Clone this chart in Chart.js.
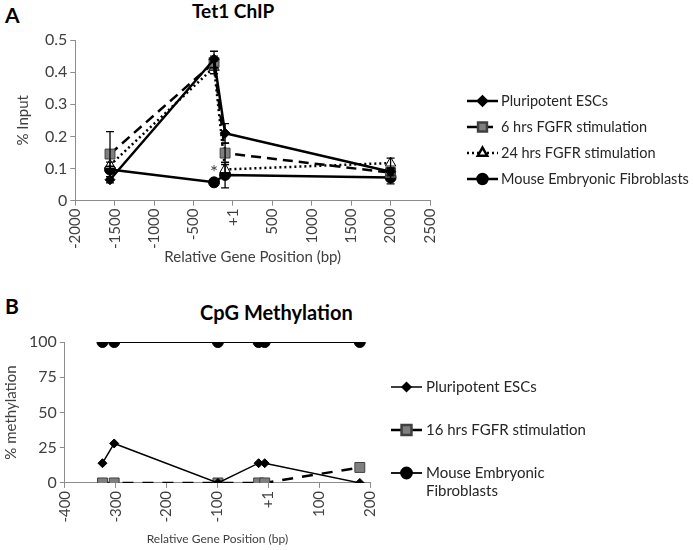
<!DOCTYPE html>
<html>
<head>
<meta charset="utf-8">
<script src="https://cdn.jsdelivr.net/npm/chart.js@4.4.0/dist/chart.umd.min.js"></script>
<style>
  body { margin: 0; background: #fff; width: 693px; height: 550px; position: relative; overflow: hidden; font-family: Lato, "Open Sans", sans-serif; }
  .box { position: absolute; left: 0; width: 693px; height: 275px; }
  .lbl { position: absolute; font-weight: bold; color: #000; line-height: 1; white-space: nowrap; }
</style>
</head>
<body>
<div class="lbl" style="left:5px;top:4px;font-size:21px">A</div>
<div class="lbl" style="left:192px;top:1px;font-size:19px">Tet1 ChIP</div>
<div class="lbl" style="left:5px;top:295px;font-size:21px">B</div>
<div class="lbl" style="left:200px;top:302px;font-size:20px">CpG Methylation</div>
<div class="box" style="top:0"><canvas id="chartA"></canvas></div>
<div class="box" style="top:275px"><canvas id="chartB"></canvas></div>

<script>
// Panel A - Tet1 ChIP (% input)
const posA = [-1560, -240, -100, 2000];
const escA = [0.065, 0.44, 0.21, 0.09];
const fgf6A = [0.145, 0.43, 0.148, 0.087];
const fgf24A = [0.11, 0.415, 0.097, 0.117];
const mefA = [0.097, 0.057, 0.08, 0.072];
const escErrA = [0.01, 0.025, 0.03, 0.01];
const fgf6ErrA = [0.07, 0.02, 0.03, 0.01];
const fgf24ErrA = [0.01, 0.02, 0.015, 0.015];
const mefErrA = [0.01, 0.005, 0.04, 0.02];
const labelsA = ['Pluripotent ESCs', '6 hrs FGFR stimulation', '24 hrs FGFR stimulation', 'Mouse Embryonic Fibroblasts'];
const starA = { x: -240, y: 0.085, text: '*' };

// Panel B - CpG methylation
const posB = [-326, -303, -99, -19, -7, 180];
const escB = [14, 28, 0, 14, 14, 0];
const fgf16B = [0, 0, 0, 0, 0, 11];
const mefB = [100, 100, 100, 100, 100, 100];
const labelsB = ['Pluripotent ESCs', '16 hrs FGFR stimulation', ['Mouse Embryonic', 'Fibroblasts']];

const FONT = 'Lato, "Open Sans", sans-serif';
const TXT = '#404040';
const AXIS = '#8c8c8c';

function pts(xs, ys) {
  return xs.map((x, i) => ({ x: x, y: ys[i] }));
}

// error bars drawn from the y scale
const errorBars = {
  id: 'errorBars',
  afterDatasetsDraw(chart) {
    const ctx = chart.ctx;
    const y = chart.scales.y;
    chart.data.datasets.forEach((ds, i) => {
      if (!ds.errors) return;
      const meta = chart.getDatasetMeta(i);
      ctx.save();
      ctx.strokeStyle = '#000';
      ctx.lineWidth = 1.3;
      ctx.setLineDash([]);
      meta.data.forEach((p, j) => {
        const v = ds.data[j].y, e = ds.errors[j];
        const top = y.getPixelForValue(v + e), bot = y.getPixelForValue(v - e);
        ctx.beginPath();
        ctx.moveTo(p.x, top); ctx.lineTo(p.x, bot);
        ctx.moveTo(p.x - 4, top); ctx.lineTo(p.x + 4, top);
        ctx.moveTo(p.x - 4, bot); ctx.lineTo(p.x + 4, bot);
        ctx.stroke();
      });
      ctx.restore();
    });
    const star = chart.options.plugins.errorBars && chart.options.plugins.errorBars.star;
    if (star) {
      ctx.save();
      ctx.fillStyle = '#404040';
      ctx.font = '19px ' + FONT;
      ctx.textAlign = 'center';
      ctx.textBaseline = 'middle';
      ctx.fillText(star.text, chart.scales.x.getPixelForValue(star.x), y.getPixelForValue(star.y));
      ctx.restore();
    }
  }
};

// legend at the right: line sample + marker + text
const sideLegend = {
  id: 'sideLegend',
  afterDraw(chart, args, opts) {
    const ctx = chart.ctx;
    chart.data.datasets.forEach((ds, i) => {
      const yy = opts.rows[i];
      const x0 = opts.x, x1 = opts.x + opts.len;
      ctx.save();
      ctx.strokeStyle = '#000';
      ctx.lineWidth = ds.borderWidth;
      ctx.setLineDash(ds.borderDash || []);
      ctx.beginPath();
      ctx.moveTo(x0, yy); ctx.lineTo(x1, yy);
      ctx.stroke();
      ctx.setLineDash([]);
      ctx.fillStyle = ds.pointBackgroundColor;
      ctx.strokeStyle = ds.pointBorderColor;
      Chart.helpers.drawPoint(ctx, {
        pointStyle: ds.pointStyle,
        radius: ds.pointRadius * opts.scale,
        borderWidth: ds.pointBorderWidth,
        rotation: 0
      }, (x0 + x1) / 2, yy);
      ctx.fillStyle = '#262626';
      ctx.font = opts.size + 'px ' + FONT;
      ctx.textBaseline = 'middle';
      const lines = [].concat(ds.label);
      lines.forEach((t, k) => ctx.fillText(t, x1 + opts.gap, yy + k * opts.lineH));
      ctx.restore();
    });
  }
};

function axisOpts(min, max, step, title, titleSize, cb, pad) {
  return {
    type: 'linear', min: min, max: max,
    border: { color: AXIS, width: 1 },
    grid: { display: true, drawOnChartArea: false, drawTicks: true, tickLength: 5, color: AXIS },
    ticks: { stepSize: step, color: TXT, font: { family: FONT, size: 15 }, padding: 3, callback: cb },
    title: { display: true, text: title, color: TXT, font: { family: FONT, size: titleSize }, padding: pad }
  };
}

const plusOne = function(v) { return v === 0 ? '+1' : v; };

const xA = axisOpts(-2000, 2500, 500, 'Relative Gene Position (bp)', 15, plusOne, { top: -4, bottom: 0 });
xA.ticks.minRotation = 90; xA.ticks.maxRotation = 90;
const yA = axisOpts(0, 0.5, 0.1, '% Input', 15, undefined, { top: 0, bottom: 10 });
yA.ticks.font.size = 16;

new Chart(document.getElementById('chartA'), {
  type: 'line',
  data: {
    datasets: [
      { label: labelsA[0], data: pts(posA, escA), errors: escErrA, borderColor: '#000', borderWidth: 2.5,
        pointStyle: 'rectRot', pointRadius: 5, pointBackgroundColor: '#000', pointBorderColor: '#000', pointBorderWidth: 1 },
      { label: labelsA[1], data: pts(posA, fgf6A), errors: fgf6ErrA, borderColor: '#000', borderWidth: 2.5, borderDash: [10, 6],
        pointStyle: 'rect', pointRadius: 7, pointBackgroundColor: '#7f7f7f', pointBorderColor: '#404040', pointBorderWidth: 1 },
      { label: labelsA[2], data: pts(posA, fgf24A), errors: fgf24ErrA, borderColor: '#000', borderWidth: 2.5, borderDash: [2, 3],
        pointStyle: 'triangle', pointRadius: 6, pointBackgroundColor: '#fff', pointBorderColor: '#000', pointBorderWidth: 1 },
      { label: labelsA[3], data: pts(posA, mefA), errors: mefErrA, borderColor: '#000', borderWidth: 2.5,
        pointStyle: 'circle', pointRadius: 5.5, pointBackgroundColor: '#000', pointBorderColor: '#000', pointBorderWidth: 1 }
    ]
  },
  options: {
    responsive: true, maintainAspectRatio: false, animation: false,
    layout: { padding: { left: 14, right: 263, top: 40, bottom: 9 } },
    scales: { x: xA, y: yA },
    elements: { line: { tension: 0 } },
    plugins: {
      legend: { display: false }, tooltip: { enabled: false },
      errorBars: { star: starA },
      sideLegend: { x: 467, len: 31, gap: 3, size: 14.5, lineH: 18, scale: 0.9, rows: [101, 127, 153, 179] }
    }
  },
  plugins: [errorBars, sideLegend]
});

const xB = axisOpts(-400, 200, 100, 'Relative Gene Position (bp)', 12, plusOne, { top: 6, bottom: 0 });
xB.ticks.minRotation = 90; xB.ticks.maxRotation = 90;
const yB = axisOpts(0, 100, 25, '% methylation', 15, undefined, { top: 0, bottom: 6 });
yB.ticks.font.size = 16;

new Chart(document.getElementById('chartB'), {
  type: 'line',
  data: {
    datasets: [
      { label: labelsB[0], data: pts(posB, escB), borderColor: '#000', borderWidth: 1.5,
        pointStyle: 'rectRot', pointRadius: 4.5, pointBackgroundColor: '#000', pointBorderColor: '#000', pointBorderWidth: 1 },
      { label: labelsB[1], data: pts(posB, fgf16B), borderColor: '#000', borderWidth: 2.5, borderDash: [11, 9],
        pointStyle: 'rect', pointRadius: 7, pointBackgroundColor: '#7f7f7f', pointBorderColor: '#404040', pointBorderWidth: 1 },
      { label: labelsB[2], data: pts(posB, mefB), borderColor: '#000', borderWidth: 1.8,
        pointStyle: 'circle', pointRadius: 5.5, pointBackgroundColor: '#000', pointBorderColor: '#000', pointBorderWidth: 1 }
    ]
  },
  options: {
    responsive: true, maintainAspectRatio: false, animation: false,
    layout: { padding: { left: 2, right: 323, top: 67, bottom: 4 } },
    scales: { x: xB, y: yB },
    elements: { line: { tension: 0 } },
    plugins: {
      legend: { display: false }, tooltip: { enabled: false },
      sideLegend: { x: 391, len: 31, gap: 4, size: 15, lineH: 18.5, scale: 1, rows: [112, 155, 198] }
    }
  },
  plugins: [errorBars, sideLegend]
});
</script>
</body>
</html>
